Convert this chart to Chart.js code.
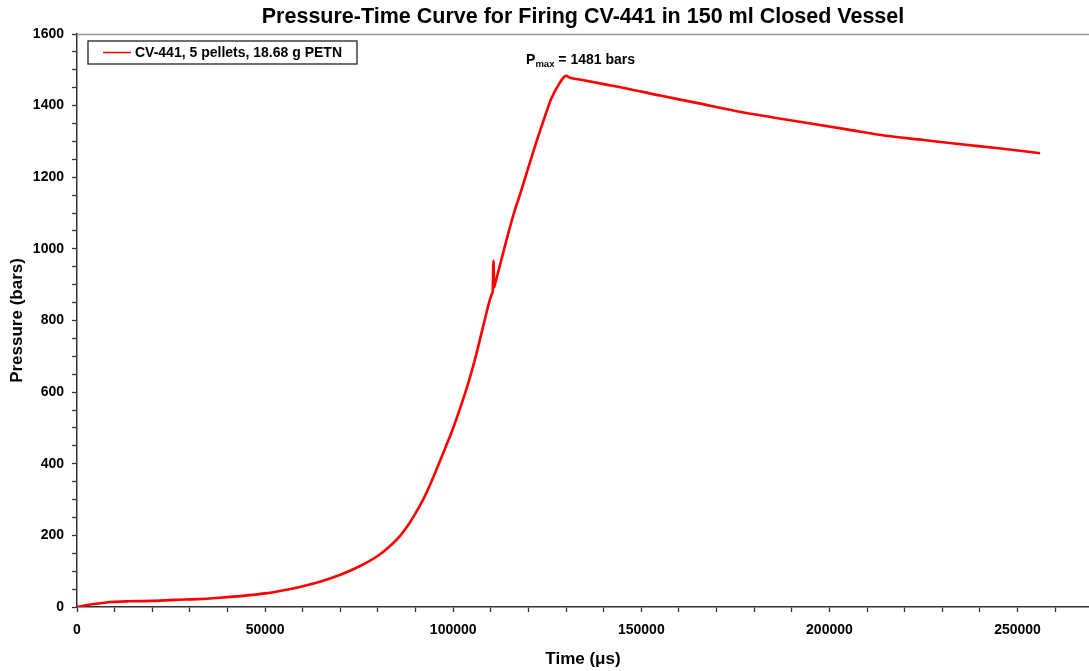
<!DOCTYPE html>
<html>
<head>
<meta charset="utf-8">
<script src="https://cdn.jsdelivr.net/npm/chart.js@4/dist/chart.umd.min.js"></script>
<style>
html,body{margin:0;padding:0;background:#fff;}
#wrap{width:1089px;height:671px;position:relative;}
</style>
</head>
<body>
<div id="wrap"><canvas id="c" width="1089" height="671"></canvas></div>
<script>
const timeUs = [0, 2000, 5000, 9000, 14000, 20000, 26000, 32000, 38000, 44000, 50000, 55000, 60000, 65000, 70000, 75000, 80000, 84000, 86000, 88000, 90000, 92000, 94000, 96000, 98000, 100000, 102000, 104000, 106000, 108000, 110400, 110500, 110700, 110900, 111000, 112000, 114000, 116000, 118000, 120000, 122000, 124000, 126000, 128000, 130000, 131000, 134000, 140000, 147000, 155000, 165000, 175000, 185000, 195000, 205000, 215000, 225000, 235000, 245000, 256000];
const pressureBars = [0, 4, 9, 14, 16, 17, 20, 22, 26, 31, 38, 47, 58, 72, 90, 113, 143, 178, 200, 228, 262, 300, 345, 395, 447, 500, 560, 625, 700, 785, 877, 881, 967, 893, 897, 937, 1018, 1095, 1160, 1228, 1295, 1358, 1418, 1458, 1483, 1478, 1472, 1460, 1446, 1428, 1407, 1385, 1367, 1350, 1333, 1316, 1304, 1292, 1281, 1267];
const seriesLabel = 'CV-441, 5 pellets, 18.68 g PETN';
const peakTime = 130000;
const peakValue = 1481;
const xMajorTicks = [0, 50000, 100000, 150000, 200000, 250000];
const yMajorTicks = [0, 200, 400, 600, 800, 1000, 1200, 1400, 1600];

const FONT = "Arial, 'Liberation Sans', sans-serif";
const points = timeUs.map((t, i) => ({x: t, y: pressureBars[i]}));

const overlay = {
  id: 'overlay',
  afterDraw(chart) {
    const ctx = chart.ctx;
    const a = chart.chartArea;
    const xs = chart.scales.x, ys = chart.scales.y;
    ctx.save();
    // top frame line
    ctx.strokeStyle = '#9a9a9a';
    ctx.lineWidth = 1.5;
    ctx.beginPath();
    ctx.moveTo(a.left, a.top + 0.5);
    ctx.lineTo(a.right, a.top + 0.5);
    ctx.stroke();
    // legend box
    const ds = chart.data.datasets[0];
    const lx = a.left + 11, ly = a.top + 7, lw = 269, lh = 23;
    ctx.fillStyle = '#fff';
    ctx.fillRect(lx, ly, lw, lh);
    ctx.strokeStyle = '#222';
    ctx.lineWidth = 1.3;
    ctx.strokeRect(lx, ly, lw, lh);
    ctx.strokeStyle = ds.borderColor;
    ctx.lineWidth = 1.5;
    ctx.beginPath();
    ctx.moveTo(lx + 15, ly + 11.5);
    ctx.lineTo(lx + 43, ly + 11.5);
    ctx.stroke();
    ctx.fillStyle = '#000';
    ctx.font = 'bold 14px ' + FONT;
    ctx.textBaseline = 'middle';
    ctx.textAlign = 'left';
    ctx.fillText(ds.label, lx + 47, ly + 12);
    // Pmax annotation
    const px = xs.getPixelForValue(peakTime);
    const py = ys.getPixelForValue(peakValue);
    let tx = px - 40, ty = py - 13;
    ctx.textBaseline = 'alphabetic';
    ctx.font = 'bold 14px ' + FONT;
    ctx.fillText('P', tx, ty);
    tx += ctx.measureText('P').width;
    ctx.font = 'bold 9.5px ' + FONT;
    ctx.fillText('max', tx, ty + 3);
    tx += ctx.measureText('max').width;
    ctx.font = 'bold 14px ' + FONT;
    ctx.fillText(' = ' + peakValue + ' bars', tx, ty);
    ctx.restore();
  }
};

new Chart(document.getElementById('c'), {
  type: 'line',
  data: {
    datasets: [{
      label: seriesLabel,
      data: points,
      borderColor: '#ff0000',
      backgroundColor: '#ff0000',
      borderWidth: 2.6,
      pointRadius: 0,
      cubicInterpolationMode: 'monotone',
      fill: false
    }]
  },
  options: {
    responsive: false,
    animation: false,
    layout: {padding: {left: 0, right: 0, top: 0, bottom: 0}},
    plugins: {
      legend: {display: false},
      tooltip: {enabled: false},
      title: {
        display: true,
        fullSize: false,
        text: 'Pressure-Time Curve for Firing CV-441 in 150 ml Closed Vessel',
        color: '#000',
        font: {family: FONT, size: 21.5, weight: 'bold', lineHeight: 1.2},
        padding: {top: 4.5, bottom: 3.7}
      }
    },
    scales: {
      x: {
        type: 'linear',
        min: 0,
        max: 269000,
        afterFit(s) { s.height = 64; },
        afterBuildTicks(s) {
          const t = [];
          for (let v = 0; v <= 260000; v += 10000) t.push({value: v});
          s.ticks = t;
        },
        ticks: {
          autoSkip: false,
          maxRotation: 0,
          padding: 10,
          color: '#000',
          font: {family: FONT, size: 14, weight: 'bold'},
          callback: (v) => xMajorTicks.includes(v) ? String(v) : ''
        },
        grid: {display: true, drawOnChartArea: false, drawTicks: true, tickLength: 5, color: '#333', tickWidth: 1.3},
        border: {display: true, color: '#333', width: 1.5},
        title: {
          display: true,
          text: 'Time (\u03bcs)',
          color: '#000',
          font: {family: FONT, size: 17, weight: 'bold', lineHeight: 1.2},
          padding: {top: 0, bottom: 1}
        }
      },
      y: {
        type: 'linear',
        min: 0,
        max: 1600,
        afterFit(s) { s.width = 77; },
        afterBuildTicks(s) {
          const t = [];
          for (let v = 0; v <= 1600; v += 50) t.push({value: v});
          s.ticks = t;
        },
        ticks: {
          autoSkip: false,
          padding: 8,
          color: '#000',
          font: {family: FONT, size: 14, weight: 'bold'},
          callback: (v) => yMajorTicks.includes(v) ? String(v) : ''
        },
        grid: {display: true, drawOnChartArea: false, drawTicks: true, tickLength: 5, color: '#333', tickWidth: 1.3},
        border: {display: true, color: '#333', width: 1.5},
        title: {
          display: true,
          text: 'Pressure (bars)',
          color: '#000',
          font: {family: FONT, size: 17, weight: 'bold', lineHeight: 1.2},
          padding: {top: 7, bottom: 0}
        }
      }
    }
  },
  plugins: [overlay]
});
</script>
</body>
</html>
